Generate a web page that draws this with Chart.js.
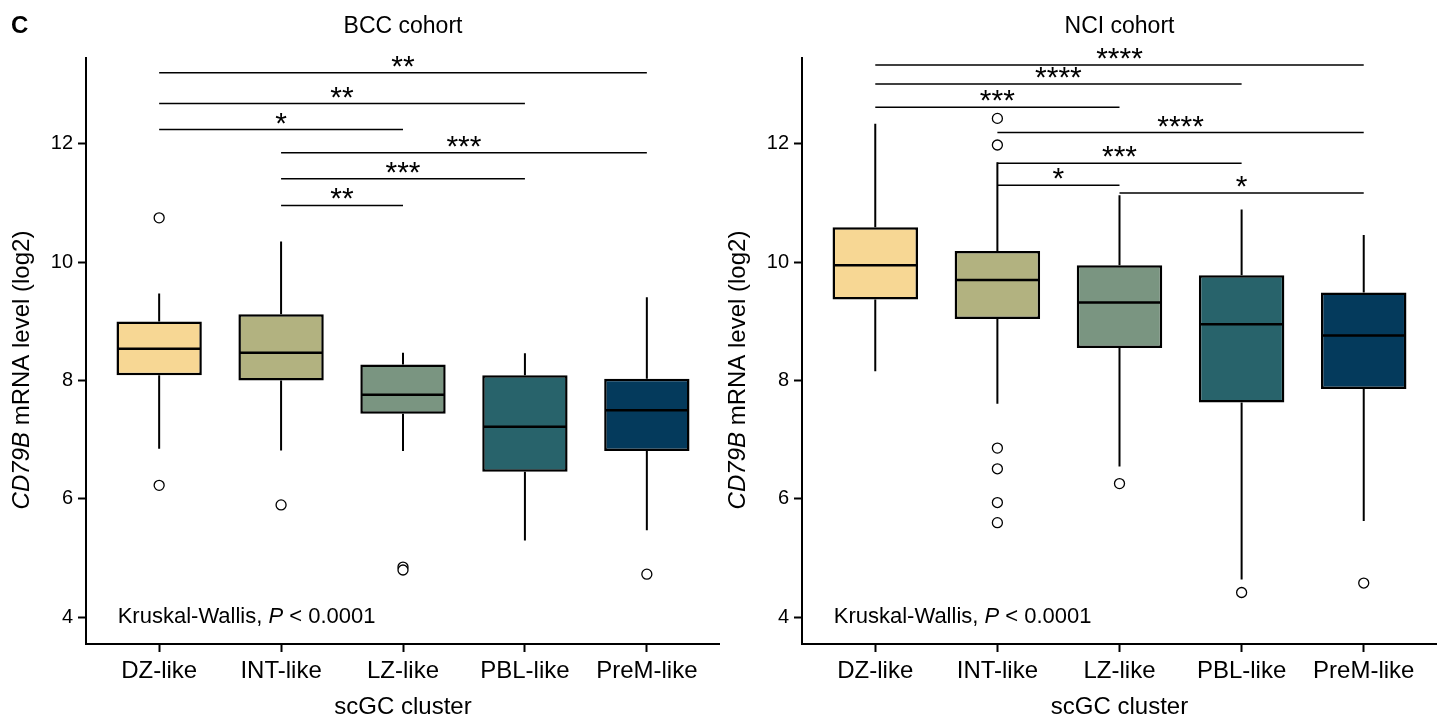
<!DOCTYPE html>
<html>
<head>
<meta charset="utf-8">
<script src="https://cdn.jsdelivr.net/npm/chart.js@4.4.1/dist/chart.umd.min.js"></script>
<style>
  html, body { margin: 0; padding: 0; background: #fff; }
  #wrap { position: relative; width: 1437px; height: 722px; overflow: hidden; }
  canvas { position: absolute; top: 0; }
</style>
</head>
<body>
<div id="wrap">
  <canvas id="bcc" width="720" height="722" style="left:0"></canvas>
  <canvas id="nci" width="719" height="722" style="left:718px"></canvas>
</div>
<script>
const clusters = ['DZ-like', 'INT-like', 'LZ-like', 'PBL-like', 'PreM-like'];
const clusterColors = ['#F7D794', '#B2B280', '#7A9581', '#28636B', '#043A5C'];
const yTicks = [4, 6, 8, 10, 12];

// BCC cohort box stats (log2)
const bccMin = [6.85, 6.82, 6.81, 5.30, 5.47];
const bccQ1  = [8.09, 8.00, 7.44, 6.46, 6.81];
const bccMed = [8.54, 8.47, 7.76, 7.22, 7.50];
const bccQ3  = [9.00, 9.12, 8.27, 8.09, 8.03];
const bccMax = [9.47, 10.35, 8.47, 8.46, 9.41];
const bccOutliers = [[10.75, 6.23], [5.90], [4.85, 4.80], [], [4.73]];
const bccSigFrom  = [1, 1, 1, 2, 2, 2];
const bccSigTo    = [5, 4, 3, 5, 4, 3];
const bccSigY     = [13.20, 12.68, 12.24, 11.85, 11.41, 10.96];
const bccSigLabel = ['**', '**', '*', '***', '***', '**'];

// NCI cohort box stats (log2)
const nciMin = [8.16, 7.61, 6.55, 4.64, 5.63];
const nciQ1  = [9.37, 9.04, 8.55, 7.63, 7.86];
const nciMed = [9.95, 9.70, 9.32, 8.95, 8.76];
const nciQ3  = [10.59, 10.19, 9.95, 9.78, 9.49];
const nciMax = [12.34, 11.69, 11.13, 10.89, 10.46];
const nciOutliers = [[], [12.43, 11.98, 6.86, 6.51, 5.94, 5.60], [6.26], [4.42], [4.58]];
const nciSigFrom  = [1, 1, 1, 2, 2, 2, 3];
const nciSigTo    = [5, 4, 3, 5, 4, 3, 5];
const nciSigY     = [13.33, 13.01, 12.62, 12.19, 11.67, 11.30, 11.17];
const nciSigLabel = ['****', '****', '***', '****', '***', '*', '*'];

const FONT = '"Liberation Sans", Arial, Helvetica, sans-serif';

const boxPlot = {
  id: 'boxPlot',
  // whiskers go under the boxes
  beforeDatasetsDraw(chart, args, o) {
    const { ctx, scales: { x, y } } = chart;
    ctx.save();
    ctx.strokeStyle = '#000';
    ctx.lineWidth = 2;
    o.q1.forEach((q1, i) => {
      const px = x.getPixelForValue(i + 1);
      ctx.beginPath();
      ctx.moveTo(px, y.getPixelForValue(o.max[i]));
      ctx.lineTo(px, y.getPixelForValue(o.q3[i]));
      ctx.moveTo(px, y.getPixelForValue(q1));
      ctx.lineTo(px, y.getPixelForValue(o.min[i]));
      ctx.stroke();
    });
    ctx.restore();
  },
  afterDatasetsDraw(chart, args, o) {
    const { ctx, scales: { y } } = chart;
    const bars = chart.getDatasetMeta(0).data;
    ctx.save();
    ctx.strokeStyle = '#000';
    ctx.lineWidth = 2.5;
    bars.forEach((bar, i) => {
      const { x: cx, width } = bar.getProps(['x', 'width'], true);
      const py = y.getPixelForValue(o.med[i]);
      ctx.beginPath();
      ctx.moveTo(cx - width / 2 + 1, py);
      ctx.lineTo(cx + width / 2 - 1, py);
      ctx.stroke();
    });
    ctx.restore();
  },
  afterDraw(chart, args, o) {
    const { ctx, chartArea: area, scales: { x, y } } = chart;
    ctx.save();
    ctx.fillStyle = '#000';
    ctx.strokeStyle = '#000';

    // pairwise comparison brackets
    ctx.lineWidth = 1.5;
    ctx.font = '30px ' + FONT;
    ctx.textAlign = 'center';
    ctx.textBaseline = 'alphabetic';
    const starDrop = ctx.measureText('*').actualBoundingBoxDescent;
    o.sigFrom.forEach((from, i) => {
      const x1 = x.getPixelForValue(from);
      const x2 = x.getPixelForValue(o.sigTo[i]);
      const py = y.getPixelForValue(o.sigY[i]);
      ctx.beginPath();
      ctx.moveTo(x1, py);
      ctx.lineTo(x2, py);
      ctx.stroke();
      ctx.fillText(o.sigLabel[i], (x1 + x2) / 2, py - 6 - starDrop);
    });

    // panel title
    ctx.font = '23px ' + FONT;
    ctx.fillText(o.title, (area.left + area.right) / 2, 33);

    if (o.letter) {
      ctx.textAlign = 'left';
      ctx.font = 'bold 24px ' + FONT;
      ctx.fillText(o.letter, 11, 33);
    }

    // Kruskal-Wallis note, italic P
    ctx.textAlign = 'left';
    ctx.textBaseline = 'middle';
    const kwParts = [['Kruskal-Wallis, ', ''], ['P', 'italic '], [' < 0.0001', '']];
    let kx = x.getPixelForValue(0.66);
    const ky = y.getPixelForValue(4);
    kwParts.forEach(([t, style]) => {
      ctx.font = style + '22px ' + FONT;
      ctx.fillText(t, kx, ky);
      kx += ctx.measureText(t).width;
    });

    // y-axis title with italic gene name
    const yParts = [['CD79B', 'italic '], [' mRNA level (log2)', '']];
    let total = 0;
    yParts.forEach(([t, style]) => {
      ctx.font = style + '24px ' + FONT;
      total += ctx.measureText(t).width;
    });
    ctx.translate(area.left - 64, 370);
    ctx.rotate(-Math.PI / 2);
    let tx = -total / 2;
    yParts.forEach(([t, style]) => {
      ctx.font = style + '24px ' + FONT;
      ctx.fillText(t, tx, 0);
      tx += ctx.measureText(t).width;
    });
    ctx.restore();
  }
};

function makePanel(id, yAxisWidth, title, letter, min, q1, med, q3, max, outliers, sigFrom, sigTo, sigY, sigLabel) {
  const outlierPts = [];
  outliers.forEach((vals, i) => vals.forEach(v => outlierPts.push({ x: i + 1, y: v })));

  return new Chart(document.getElementById(id), {
    type: 'bar',
    data: {
      datasets: [
        {
          data: clusters.map((c, i) => ({ x: i + 1, y: [q1[i], q3[i]] })),
          backgroundColor: clusterColors,
          borderColor: '#000',
          borderWidth: 2.5,
          borderSkipped: false,
          categoryPercentage: 1,
          barPercentage: 0.7
        },
        {
          type: 'scatter',
          data: outlierPts,
          pointRadius: 5,
          pointBorderWidth: 1.3,
          pointBorderColor: '#000',
          pointBackgroundColor: '#fff'
        }
      ]
    },
    options: {
      responsive: false,
      animation: false,
      events: [],
      devicePixelRatio: 1,
      layout: { autoPadding: false, padding: { top: 58, left: 0, right: 0, bottom: 0 } },
      scales: {
        x: {
          type: 'linear',
          min: 0.4,
          max: 5.6,
          offset: false,
          afterFit: s => { s.height = 78; },
          border: { color: '#000', width: 2 },
          grid: { offset: false, drawOnChartArea: false, drawTicks: true, tickLength: 8, tickColor: '#000', tickWidth: 2 },
          ticks: {
            stepSize: 1,
            includeBounds: false,
            autoSkip: false,
            maxRotation: 0,
            padding: 5,
            color: '#000',
            font: { family: FONT, size: 24 },
            callback: v => clusters[v - 1] || ''
          },
          title: {
            display: true,
            text: 'scGC cluster',
            color: '#000',
            font: { family: FONT, size: 24, lineHeight: 1.2 },
            padding: { top: 0, bottom: 0 }
          }
        },
        y: {
          min: 3.55,
          max: 13.45,
          afterFit: s => { s.width = yAxisWidth; },
          afterBuildTicks: s => { s.ticks = yTicks.map(v => ({ value: v })); },
          border: { color: '#000', width: 2 },
          grid: { drawOnChartArea: false, drawTicks: true, tickLength: 8, tickColor: '#000', tickWidth: 2 },
          ticks: {
            padding: 5,
            color: '#000',
            font: { family: FONT, size: 20 }
          }
        }
      },
      plugins: {
        legend: { display: false },
        tooltip: { enabled: false },
        boxPlot: { title, letter, min, q1, med, q3, max, sigFrom, sigTo, sigY, sigLabel }
      }
    },
    plugins: [boxPlot]
  });
}

makePanel('bcc', 86, 'BCC cohort', 'C', bccMin, bccQ1, bccMed, bccQ3, bccMax, bccOutliers,
  bccSigFrom, bccSigTo, bccSigY, bccSigLabel);
makePanel('nci', 84, 'NCI cohort', '', nciMin, nciQ1, nciMed, nciQ3, nciMax, nciOutliers,
  nciSigFrom, nciSigTo, nciSigY, nciSigLabel);
</script>
</body>
</html>
